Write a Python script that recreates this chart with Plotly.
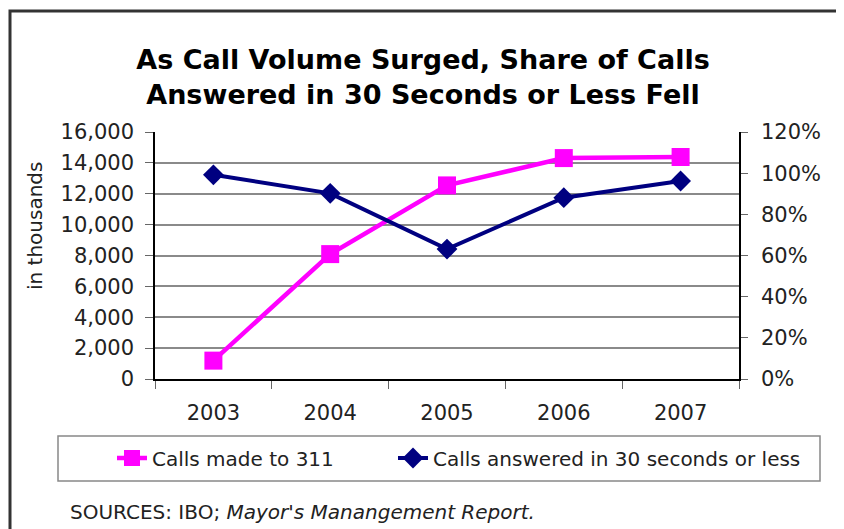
import plotly.graph_objects as go

years = ["2003", "2004", "2005", "2006", "2007"]
calls_made = [1190, 8090, 12540, 14310, 14380]          # in thousands
answered_30s = [0.992, 0.902, 0.631, 0.881, 0.962]      # share

FONT = "DejaVu Sans"
W, H = 844, 529
L, R, T, B = 147, 113, 124, 158
PW, PH = W - L - R, H - T - B


def px(x):  # figure pixel -> paper x
    return (x - L) / PW


def py(y):  # figure pixel -> paper y
    return (H - B - y) / PH


fig = go.Figure()
fig.add_trace(go.Scatter(
    x=years, y=calls_made, name="Calls made to 311", mode="lines+markers",
    line=dict(color="#FF00FF", width=4.5),
    marker=dict(symbol="square", size=18, color="#FF00FF"),
    legend="legend",
))
fig.add_trace(go.Scatter(
    x=years, y=answered_30s, name="Calls answered in 30 seconds or less",
    mode="lines+markers", yaxis="y2",
    line=dict(color="#000080", width=4),
    marker=dict(symbol="diamond", size=16, color="#000080"),
    legend="legend2",
))

fig.update_layout(
    width=W, height=H,
    margin=dict(l=L, r=R, t=T, b=B),
    paper_bgcolor="white", plot_bgcolor="white",
    font=dict(family=FONT, size=21, color="#222222"),
    title=dict(
        text="<b>As Call Volume Surged, Share of Calls<br>Answered in 30 Seconds or Less Fell</b>",
        x=415 / W, xanchor="center", xref="container",
        y=1 - 61 / H, yanchor="middle", yref="container",
        font=dict(family=FONT, size=27, color="black"),
    ),
    xaxis=dict(
        type="category", showline=True, linecolor="black", linewidth=1.5,
        ticks="outside", tickson="boundaries", ticklen=8, tickcolor="#666",
        showgrid=False, tickfont=dict(size=21), range=[-0.5, 4.5],
        ticklabelstandoff=14,
    ),
    yaxis=dict(
        range=[0, 16000], dtick=2000, tickformat=",", showline=True,
        linecolor="black", linewidth=1.5, ticks="outside", ticklen=8,
        tickcolor="#666", gridcolor="#8a8a8a", gridwidth=1.5,
        zeroline=False, ticklabelstandoff=7,
    ),
    yaxis2=dict(
        range=[0, 1.2], dtick=0.2, tickformat=".0%", overlaying="y",
        side="right", showline=True, linecolor="black", linewidth=1.5,
        ticks="outside", ticklen=7, tickcolor="#666", showgrid=False,
        zeroline=False, ticklabelstandoff=9,
    ),
    legend=dict(
        orientation="h", xref="container", yref="container",
        x=(112 - 8) / W, xanchor="left", y=1 - 450 / H, yanchor="middle",
        font=dict(size=20), bgcolor="rgba(0,0,0,0)",
    ),
    legend2=dict(
        orientation="h", xref="container", yref="container",
        x=(393 - 8) / W, xanchor="left", y=1 - 450 / H, yanchor="middle",
        font=dict(size=20), bgcolor="rgba(0,0,0,0)",
    ),
    showlegend=True,
)

# outer chart border (reference px minus 8px page offset)
fig.add_shape(type="rect", xref="paper", yref="paper",
              x0=px(2), x1=px(833), y0=py(545), y1=py(3),
              line=dict(color="#333333", width=3), layer="below")
# legend frame
fig.add_shape(type="rect", xref="paper", yref="paper",
              x0=px(50), x1=px(812), y0=py(473), y1=py(428),
              line=dict(color="#888888", width=1.5), layer="below")

fig.add_annotation(
    text="in thousands", textangle=-90, xref="paper", yref="paper",
    x=px(27), y=py(218), xanchor="center", yanchor="middle",
    showarrow=False, font=dict(size=20, color="#222222"),
)
fig.add_annotation(
    text="SOURCES: IBO; <i>Mayor's Manangement Report.</i>",
    xref="paper", yref="paper", x=px(60), y=py(504), xanchor="left",
    yanchor="middle", showarrow=False, font=dict(size=20, color="#222222"),
)

fig.write_html("out.html")
